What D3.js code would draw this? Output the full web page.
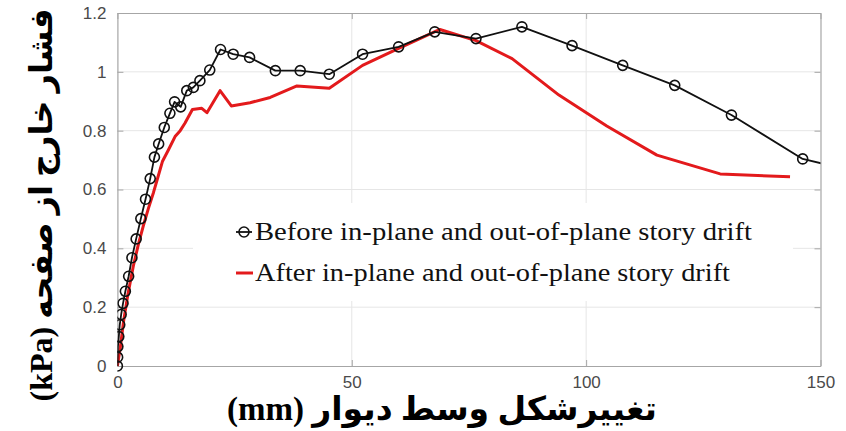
<!DOCTYPE html>
<html>
<head>
<meta charset="utf-8">
<script src="https://cdn.jsdelivr.net/npm/d3@7/dist/d3.min.js"></script>
<style>
  html, body { margin: 0; padding: 0; background: #fff; }
  svg { display: block; }
</style>
</head>
<body>
<svg id="chart" width="846" height="431"></svg>
<script>
// Wall mid-height deflection (mm) vs. out-of-plane pressure (kPa)
const beforeX = [0, 0.05, 0.1, 0.3, 0.5, 0.8, 1.2, 1.7, 2.4, 3.1, 4.0, 5.0, 6.0, 7.0, 7.9, 8.8,
  10.0, 11.2, 12.2, 13.5, 14.8, 16.2, 17.6, 19.7, 22.0, 24.7, 28.2, 33.7, 39.0, 45.2,
  52.3, 60.0, 67.7, 76.5, 86.3, 97.0, 107.8, 118.9, 131.0, 146.2, 152.0];
const beforeY = [0, 0.03, 0.066, 0.10, 0.14, 0.175, 0.213, 0.254, 0.305, 0.368, 0.432, 0.501,
  0.567, 0.637, 0.710, 0.755, 0.811, 0.859, 0.898, 0.881, 0.936, 0.947, 0.970, 1.006,
  1.076, 1.060, 1.049, 1.004, 1.004, 0.992, 1.060, 1.085, 1.136, 1.113, 1.153, 1.089,
  1.022, 0.954, 0.853, 0.704, 0.682];

const afterX = [0, 0.6, 1.3, 2.2, 3.4, 4.5, 5.5, 6.6, 7.7, 8.7, 9.6, 10.9, 12.3, 13.4, 14.4,
  16.0, 18.0, 19.1, 21.9, 24.3, 28.3, 32.6, 38.3, 45.2, 52.3, 60.0, 68.8, 76.5, 84.2,
  94.2, 104.4, 115.1, 128.6, 143.5];
const afterY = [0, 0.06, 0.15, 0.24, 0.34, 0.415, 0.475, 0.535, 0.59, 0.645, 0.695, 0.735,
  0.78, 0.80, 0.825, 0.872, 0.876, 0.861, 0.936, 0.884, 0.895, 0.913, 0.952, 0.944,
  1.022, 1.080, 1.144, 1.106, 1.045, 0.921, 0.816, 0.717, 0.653, 0.643];

const xTicks = [0, 50, 100, 150];
const xTickLabels = ["0", "50", "100", "150"];
const yTicks = [0, 0.2, 0.4, 0.6, 0.8, 1, 1.2];
const yTickLabels = ["0", "0.2", "0.4", "0.6", "0.8", "1", "1.2"];

const seriesNames = [
  "Before in-plane and out-of-plane story drift",
  "After in-plane and out-of-plane story drift"
];
const xTitle = "تغییرشکل وسط دیوار (mm)";
const yTitle = "فشار خارج از صفحه (kPa)";

const svg = d3.select("#chart");
const plotL = 117.4, plotR = 820.5, plotT = 13, plotB = 366;

const x = d3.scaleLinear().domain([0, 150]).range([plotL, plotR]);
const y = d3.scaleLinear().domain([0, 1.2]).range([plotB, plotT]);

svg.append("defs").append("clipPath").attr("id", "plotClip")
  .append("rect").attr("x", plotL).attr("y", plotT - 8)
  .attr("width", plotR - plotL).attr("height", plotB - plotT + 16);

// grid lines
const grid = svg.append("g").attr("class", "grid");
grid.selectAll("line.gx").data(xTicks.slice(1, -1)).join("line")
  .attr("x1", d => x(d)).attr("x2", d => x(d))
  .attr("y1", plotT).attr("y2", plotB)
  .attr("stroke", "#e6e6e6").attr("stroke-width", 1);
grid.selectAll("line.gy").data(yTicks.slice(1, -1)).join("line")
  .attr("x1", plotL).attr("x2", plotR)
  .attr("y1", d => y(d)).attr("y2", d => y(d))
  .attr("stroke", "#e6e6e6").attr("stroke-width", 1);

// axes box (ticks pointing inward)
const axisColor = "#a6a6a6";
const labelFont = "'Liberation Sans', Arial, sans-serif";

const gx = svg.append("g").attr("transform", `translate(0,${plotB})`)
  .call(d3.axisBottom(x).tickValues(xTicks).tickSizeInner(-6).tickSizeOuter(0)
    .tickFormat((d, i) => xTickLabels[i]).tickPadding(10));
const gxTop = svg.append("g").attr("transform", `translate(0,${plotT})`)
  .call(d3.axisTop(x).tickValues(xTicks).tickSizeInner(-6).tickSizeOuter(0).tickFormat(""));
const gy = svg.append("g").attr("transform", `translate(${plotL},0)`)
  .call(d3.axisLeft(y).tickValues(yTicks).tickSizeInner(-6).tickSizeOuter(0)
    .tickFormat((d, i) => yTickLabels[i]).tickPadding(11));
const gyRight = svg.append("g").attr("transform", `translate(${plotR},0)`)
  .call(d3.axisRight(y).tickValues(yTicks).tickSizeInner(-6).tickSizeOuter(0).tickFormat(""));

[gx, gxTop, gy, gyRight].forEach(g => {
  g.select(".domain").attr("stroke", axisColor).attr("stroke-width", 1.2);
  g.selectAll(".tick line").attr("stroke", axisColor);
  g.selectAll(".tick text").attr("fill", "#4a4a4a")
    .attr("font-family", labelFont).attr("font-size", 17);
});

// legend background
svg.append("rect").attr("x", 193).attr("y", 203).attr("width", 600).attr("height", 98)
  .attr("fill", "#fff");

// series
const plot = svg.append("g").attr("clip-path", "url(#plotClip)");
const line = d3.line().x(d => x(d[0])).y(d => y(d[1]));

const beforePts = beforeX.map((v, i) => [v, beforeY[i]]);
const afterPts = afterX.map((v, i) => [v, afterY[i]]);

plot.append("path").datum(afterPts).attr("d", line)
  .attr("fill", "none").attr("stroke", "#e31a1c").attr("stroke-width", 3)
  .attr("stroke-linejoin", "round");

plot.append("path").datum(beforePts).attr("d", line)
  .attr("fill", "none").attr("stroke", "#111").attr("stroke-width", 1.8)
  .attr("stroke-linejoin", "round");

plot.selectAll("circle.m").data(beforePts.filter(d => d[0] <= 150)).join("circle")
  .attr("cx", d => x(d[0])).attr("cy", d => y(d[1])).attr("r", 5)
  .attr("fill", "none").attr("stroke", "#111").attr("stroke-width", 1.6);

// legend
const legend = svg.append("g").attr("transform", "translate(236,0)");
const rowsY = [232, 273];
const rowWidths = [497, 475];
legend.append("line").attr("x1", 0).attr("x2", 16).attr("y1", rowsY[0]).attr("y2", rowsY[0])
  .attr("stroke", "#111").attr("stroke-width", 1.8);
legend.append("circle").attr("cx", 8).attr("cy", rowsY[0]).attr("r", 5)
  .attr("fill", "none").attr("stroke", "#111").attr("stroke-width", 1.6);
legend.append("line").attr("x1", 0).attr("x2", 17).attr("y1", rowsY[1]).attr("y2", rowsY[1])
  .attr("stroke", "#e31a1c").attr("stroke-width", 3);
legend.selectAll("text").data(seriesNames).join("text")
  .attr("x", 19).attr("y", (d, i) => rowsY[i] + 8)
  .attr("textLength", (d, i) => rowWidths[i]).attr("lengthAdjust", "spacingAndGlyphs")
  .attr("font-family", "'Liberation Serif', 'Times New Roman', serif")
  .attr("font-size", 26).attr("fill", "#111").text(d => d);

// axis titles
svg.append("text").attr("x", 442).attr("y", 420)
  .attr("text-anchor", "middle").attr("direction", "rtl")
  .attr("font-family", "'Liberation Serif', 'DejaVu Sans', serif")
  .attr("font-weight", "bold").attr("font-size", 33).attr("fill", "#000")
  .text(xTitle);

svg.append("text").attr("transform", "translate(52,205) rotate(-90)")
  .attr("text-anchor", "middle").attr("direction", "rtl")
  .attr("font-family", "'Liberation Serif', 'DejaVu Sans', serif")
  .attr("font-weight", "bold").attr("font-size", 32).attr("fill", "#000")
  .text(yTitle);
</script>
</body>
</html>
